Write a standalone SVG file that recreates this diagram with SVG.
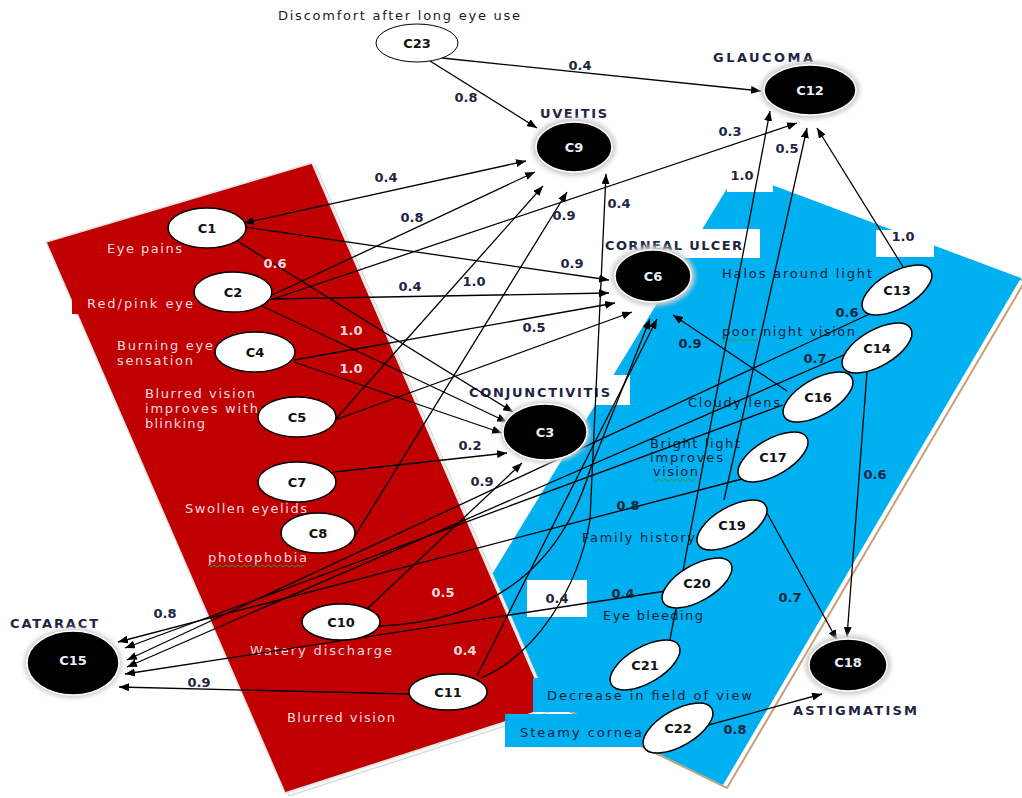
<svg xmlns="http://www.w3.org/2000/svg" width="1022" height="798" viewBox="0 0 1022 798">
<defs>
<marker id="ah" markerUnits="userSpaceOnUse" markerWidth="11" markerHeight="8" refX="10" refY="4" orient="auto-start-reverse">
<path d="M0,0 L10,4 L0,8 z" fill="#000"/>
</marker>
<filter id="glow" x="-30%" y="-30%" width="160%" height="160%">
<feGaussianBlur stdDeviation="2"/>
</filter>
<style>
.sym{font-family:"DejaVu Sans",Verdana,sans-serif;font-size:13px;fill:#0b1f3a}
.symp{fill:#f7d9e0}
.dz{font-family:"DejaVu Sans",Verdana,sans-serif;font-size:13px;font-weight:bold;fill:#1c2541}
.nid{font-family:"DejaVu Sans",Verdana,sans-serif;font-size:13px;font-weight:bold;fill:#111;text-anchor:middle}
.nidw{fill:#e6eefa}
.el{font-family:"DejaVu Sans",Verdana,sans-serif;font-size:13px;font-weight:bold;fill:#1c2541;text-anchor:middle}
.elp{fill:#f7d9e0}
.wn{fill:#fff;stroke:#000;stroke-width:1.5}
.dn{fill:#000;stroke:#fff;stroke-width:1.5}
.halo{fill:#cfcfcf;filter:url(#glow)}
.cn{fill:none;stroke:#000;stroke-width:1.3;marker-end:url(#ah)}
.sq{fill:none;stroke:#3a9a3a;stroke-width:1}
</style>
</defs>
<rect width="1022" height="798" fill="#fff"/>
<g id="bands">
<polygon points="741,175 1025,281 727,788 450,653" fill="#fff" stroke="#c8a07a" stroke-width="2"/>
<polygon points="737,172 1021,278 723,785 446,650" fill="#00b0f0"/>
<polygon points="50,245 316,166 552,711 289,796" fill="#f6f6f6" stroke="#d2d2d2" stroke-width="1"/>
<polygon points="46,242 312,163 548,708 285,793" fill="#c00000" stroke="#e2e2e2" stroke-width="1.5"/>
<rect x="72" y="290" width="40" height="24" fill="#c00000"/>
<rect x="603" y="229" width="157" height="29" fill="#fff"/>
<rect x="463" y="375" width="167" height="30" fill="#fff"/>
<rect x="727" y="162" width="46" height="30" fill="#fff"/>
<rect x="876" y="230" width="58" height="27" fill="#fff"/>
<rect x="527" y="580" width="60" height="37" fill="#fff"/>
<rect x="533" y="678" width="225" height="34" fill="#00b0f0"/>
<rect x="505" y="714" width="140" height="33" fill="#00b0f0"/>
</g>
<g id="labels">
<text class="sym" x="278" y="20" textLength="242" lengthAdjust="spacing" style="fill:#1a1a2a">Discomfort after long eye use</text>
<text class="sym symp" x="107" y="253" textLength="75" lengthAdjust="spacing">Eye pains</text>
<text class="sym symp" x="87" y="308" textLength="106" lengthAdjust="spacing">Red/pink eye</text>
<text class="sym symp" x="117" y="350" textLength="96" lengthAdjust="spacing">Burning eye</text>
<text class="sym symp" x="117" y="365" textLength="76" lengthAdjust="spacing">sensation</text>
<text class="sym symp" x="145" y="398" textLength="110" lengthAdjust="spacing">Blurred vision</text>
<text class="sym symp" x="145" y="413" textLength="113" lengthAdjust="spacing">improves with</text>
<text class="sym symp" x="145" y="428" textLength="60" lengthAdjust="spacing">blinking</text>
<text class="sym symp" x="185" y="513" textLength="122" lengthAdjust="spacing">Swollen eyelids</text>
<text class="sym symp" x="208" y="562" textLength="99" lengthAdjust="spacing">photophobia</text>
<path class="sq" d="M208,565 l3,2 l3,-2 l3,2 l3,-2 l3,2 l3,-2 l3,2 l3,-2 l3,2 l3,-2 l3,2 l3,-2 l3,2 l3,-2 l3,2 l3,-2 l3,2 l3,-2 l3,2 l3,-2 l3,2 l3,-2 l3,2 l3,-2 l3,2 l3,-2 l3,2 l3,-2 l3,2 l3,-2 l3,2 l3,-2"/>
<text class="sym symp" x="250" y="655" textLength="142" lengthAdjust="spacing">Watery discharge</text>
<text class="sym symp" x="287" y="722" textLength="108" lengthAdjust="spacing">Blurred vision</text>
<text class="sym" x="722" y="278" textLength="150" lengthAdjust="spacing">Halos around light</text>
<text class="sym" x="722" y="336" textLength="133" lengthAdjust="spacing">poor night vision</text>
<path class="sq" d="M722,339 l3,2 l3,-2 l3,2 l3,-2 l3,2 l3,-2 l3,2 l3,-2 l3,2 l3,-2 l3,2 l3,-2"/>
<text class="sym" x="688" y="407" textLength="92" lengthAdjust="spacing">Cloudy lens</text>
<text class="sym" x="650" y="448" textLength="90" lengthAdjust="spacing">Bright light</text>
<text class="sym" x="650" y="462" textLength="73" lengthAdjust="spacing">improves</text>
<text class="sym" x="653" y="476" textLength="45" lengthAdjust="spacing">vision</text>
<path class="sq" d="M653,479 l3,2 l3,-2 l3,2 l3,-2 l3,2 l3,-2 l3,2 l3,-2 l3,2 l3,-2 l3,2 l3,-2 l3,2 l3,-2"/>
<text class="sym" x="582" y="542" textLength="113" lengthAdjust="spacing">Family history</text>
<text class="sym" x="603" y="620" textLength="100" lengthAdjust="spacing">Eye bleeding</text>
<text class="sym" x="547" y="700" textLength="205" lengthAdjust="spacing">Decrease in field of view</text>
<text class="sym" x="520" y="737" textLength="122" lengthAdjust="spacing">Steamy cornea</text>
<text class="dz" x="540" y="118" textLength="67" lengthAdjust="spacing">UVEITIS</text>
<text class="dz" x="713" y="62" textLength="100" lengthAdjust="spacing">GLAUCOMA</text>
<text class="dz" x="605" y="250" textLength="137" lengthAdjust="spacing">CORNEAL ULCER</text>
<text class="dz" x="469" y="397" textLength="141" lengthAdjust="spacing">CONJUNCTIVITIS</text>
<text class="dz" x="10" y="628" textLength="88" lengthAdjust="spacing">CATARACT</text>
<text class="dz" x="793" y="715" textLength="124" lengthAdjust="spacing">ASTIGMATISM</text>
</g>
<g id="connectors">
<path class="cn" d="M430,61 L537,128"/>
<path class="cn" d="M442,58 L761,91"/>
<path class="cn" d="M244,223 L526,161" style="marker-start:url(#ah)"/>
<path class="cn" d="M245,227 L609,280"/>
<path class="cn" d="M237,241 L513,412"/>
<path class="cn" d="M268,297 L535,172"/>
<path class="cn" d="M270,300 L797,123"/>
<path class="cn" d="M272,299 L609,293"/>
<path class="cn" d="M262,306 L507,422"/>
<path class="cn" d="M294,360 L615,303"/>
<path class="cn" d="M294,362 L502,433"/>
<path class="cn" d="M334,421 L543,186"/>
<path class="cn" d="M335,420 L632,312"/>
<path class="cn" d="M334,472 L507,453"/>
<path class="cn" d="M350,544 L567,192"/>
<path class="cn" d="M368,608 L522,463"/>
<path class="cn" d="M380,626 C470,622 555,585 590,470 L650,319"/>
<path class="cn" d="M481,678 C535,655 578,590 590,520 L606,174"/>
<path class="cn" d="M477,676 L657,319"/>
<path class="cn" d="M409,694 L119,687"/>
<path class="cn" d="M905,270 L817,128"/>
<path class="cn" d="M876,311 L127,660"/>
<path class="cn" d="M846,354 L127,667"/>
<path class="cn" d="M783,405 L125,648"/>
<path class="cn" d="M787,391 L673,315"/>
<path class="cn" d="M742,479 L118,642"/>
<path class="cn" d="M724,500 L807,128"/>
<path class="cn" d="M767,513 L837,640"/>
<path class="cn" d="M666,591 L125,674"/>
<path class="cn" d="M668,650 L770,111"/>
<path class="cn" d="M672,735 L822,694"/>
<path class="cn" d="M867,372 L847,637"/>
</g>
<g id="edge-labels">
<text class="el" x="466" y="102">0.8</text>
<text class="el" x="580" y="70">0.4</text>
<text class="el" x="730" y="136">0.3</text>
<text class="el" x="787" y="153">0.5</text>
<text class="el" x="742" y="180">1.0</text>
<text class="el" x="903" y="241">1.0</text>
<text class="el" x="386" y="182">0.4</text>
<text class="el" x="412" y="222">0.8</text>
<text class="el" x="564" y="220">0.9</text>
<text class="el" x="619" y="208">0.4</text>
<text class="el" x="572" y="268">0.9</text>
<text class="el elp" x="275" y="268">0.6</text>
<text class="el" x="410" y="291">0.4</text>
<text class="el" x="474" y="286">1.0</text>
<text class="el elp" x="351" y="335">1.0</text>
<text class="el elp" x="351" y="373">1.0</text>
<text class="el" x="534" y="332">0.5</text>
<text class="el" x="470" y="450">0.2</text>
<text class="el" x="482" y="486">0.9</text>
<text class="el" x="628" y="510">0.8</text>
<text class="el" x="690" y="348">0.9</text>
<text class="el" x="847" y="317">0.6</text>
<text class="el" x="815" y="363">0.7</text>
<text class="el" x="875" y="479">0.6</text>
<text class="el elp" x="443" y="597">0.5</text>
<text class="el" x="557" y="603">0.4</text>
<text class="el" x="623" y="598">0.4</text>
<text class="el elp" x="465" y="655">0.4</text>
<text class="el" x="165" y="618">0.8</text>
<text class="el" x="199" y="687">0.9</text>
<text class="el" x="790" y="602">0.7</text>
<text class="el" x="735" y="734">0.8</text>
</g>
<g id="C23"><ellipse cx="417" cy="43" rx="41" ry="19" fill="#fff" stroke="#000" stroke-width="1"/><text class="nid" x="417" y="48">C23</text></g>
<g id="C9"><ellipse class="halo" cx="574" cy="147" rx="42" ry="29"/><ellipse class="dn" cx="574" cy="147" rx="38" ry="25"/><text class="nid nidw" x="574" y="152">C9</text></g>
<g id="C12"><ellipse class="halo" cx="810" cy="90" rx="50" ry="29"/><ellipse class="dn" cx="810" cy="90" rx="46" ry="25"/><text class="nid nidw" x="810" y="95">C12</text></g>
<g id="C6"><ellipse class="halo" cx="653" cy="276" rx="42" ry="30"/><ellipse class="dn" cx="653" cy="276" rx="38" ry="26"/><text class="nid nidw" x="653" y="281">C6</text></g>
<g id="C3"><ellipse class="halo" cx="545" cy="432" rx="45" ry="31"/><ellipse class="dn" cx="545" cy="432" rx="42" ry="28"/><text class="nid nidw" x="545" y="437">C3</text></g>
<g id="C15"><ellipse class="halo" cx="73" cy="663" rx="49" ry="35"/><ellipse class="dn" cx="73" cy="663" rx="46" ry="32"/><text class="nid nidw" x="73" y="665">C15</text></g>
<g id="C18"><ellipse class="halo" cx="848" cy="665" rx="43" ry="30"/><ellipse class="dn" cx="848" cy="665" rx="39" ry="26"/><text class="nid nidw" x="848" y="667">C18</text></g>
<g id="C1"><ellipse class="wn" cx="207" cy="228" rx="39" ry="20"/><text class="nid" x="207" y="233">C1</text></g>
<g id="C2"><ellipse class="wn" cx="233" cy="292" rx="39" ry="20"/><text class="nid" x="233" y="297">C2</text></g>
<g id="C4"><ellipse class="wn" cx="255" cy="352" rx="40" ry="20"/><text class="nid" x="255" y="357">C4</text></g>
<g id="C5"><ellipse class="wn" cx="297" cy="417" rx="39" ry="20"/><text class="nid" x="297" y="422">C5</text></g>
<g id="C7"><ellipse class="wn" cx="297" cy="482" rx="39" ry="20"/><text class="nid" x="297" y="487">C7</text></g>
<g id="C8"><ellipse class="wn" cx="318" cy="533" rx="37" ry="20"/><text class="nid" x="318" y="538">C8</text></g>
<g id="C10"><ellipse class="wn" cx="341" cy="622" rx="39" ry="18"/><text class="nid" x="341" y="627">C10</text></g>
<g id="C11"><ellipse class="wn" cx="448" cy="692" rx="39" ry="18"/><text class="nid" x="448" y="697">C11</text></g>
<g id="C13"><ellipse class="wn" cx="897" cy="290" rx="39" ry="18" transform="rotate(-30 897 290)"/><text class="nid" x="897" y="295">C13</text></g>
<g id="C14"><ellipse class="wn" cx="877" cy="348" rx="39" ry="18" transform="rotate(-30 877 348)"/><text class="nid" x="877" y="353">C14</text></g>
<g id="C16"><ellipse class="wn" cx="818" cy="397" rx="39" ry="18" transform="rotate(-30 818 397)"/><text class="nid" x="818" y="402">C16</text></g>
<g id="C17"><ellipse class="wn" cx="773" cy="457" rx="39" ry="18" transform="rotate(-30 773 457)"/><text class="nid" x="773" y="462">C17</text></g>
<g id="C19"><ellipse class="wn" cx="732" cy="525" rx="39" ry="18" transform="rotate(-30 732 525)"/><text class="nid" x="732" y="530">C19</text></g>
<g id="C20"><ellipse class="wn" cx="697" cy="583" rx="39" ry="18" transform="rotate(-30 697 583)"/><text class="nid" x="697" y="588">C20</text></g>
<g id="C21"><ellipse class="wn" cx="645" cy="665" rx="39" ry="18" transform="rotate(-30 645 665)"/><text class="nid" x="645" y="670">C21</text></g>
<g id="C22"><ellipse class="wn" cx="678" cy="728" rx="39" ry="18" transform="rotate(-30 678 728)"/><text class="nid" x="678" y="733">C22</text></g>
</svg>
